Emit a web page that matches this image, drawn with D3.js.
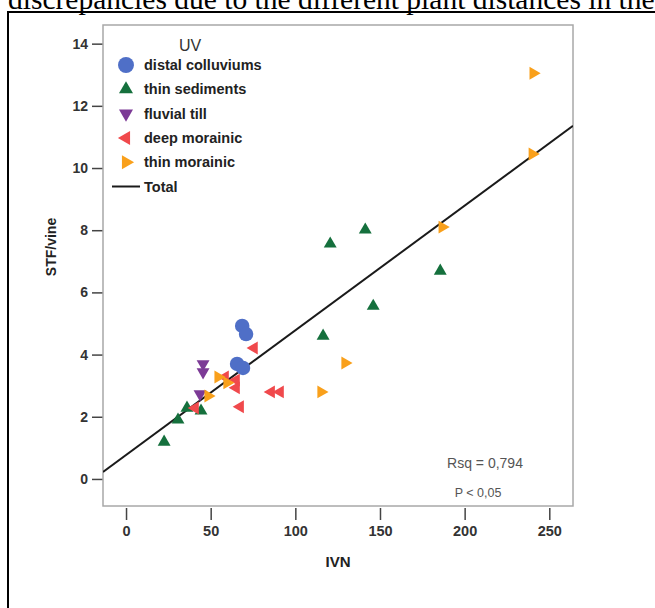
<!DOCTYPE html>
<html>
<head>
<meta charset="utf-8">
<script src="https://cdn.jsdelivr.net/npm/d3@7"></script>
<style>
  body { margin: 0; background: #fff; }
  svg { display: block; }
</style>
</head>
<body>
<script>
const width = 655;
const height = 608;

// series: [IVN, STF/vine]
const distalColluviums = [[68.6, 4.92], [70.9, 4.66], [65.6, 3.70], [69.1, 3.57]];
const thinSediments = [[22.5, 1.19], [30.7, 1.90], [36.0, 2.28], [44.3, 2.19], [120.6, 7.56],
  [141.3, 8.01], [146.0, 5.56], [116.4, 4.60], [185.6, 6.69]];
const fluvialTill = [[45.5, 3.70], [45.5, 3.44], [43.7, 2.73]];
const deepMorainic = [[40.8, 2.28], [75.6, 4.21], [58.5, 3.28], [65.0, 3.18], [65.0, 2.93],
  [67.4, 2.32], [85.7, 2.80], [91.0, 2.80]];
const thinMorainic = [[240.5, 13.05], [240.0, 10.45], [186.8, 8.10], [129.4, 3.73], [115.2, 2.80],
  [54.4, 3.28], [59.7, 3.09], [48.5, 2.67]];

const seriesNames = ["distal colluviums", "thin sediments", "fluvial till", "deep morainic", "thin morainic"];
const seriesData = [distalColluviums, thinSediments, fluvialTill, deepMorainic, thinMorainic];
const seriesColors = ["#4f6fc7", "#15703d", "#7c3a96", "#f0494c", "#f9a01b"];
// circle, up, down, left, right
const seriesShapes = ["circle", "up", "down", "left", "right"];

// fitted line (Total)
const fitIntercept = 0.77;
const fitSlope = 0.0401;

const xTicks = [0, 50, 100, 150, 200, 250];
const yTicks = [0, 2, 4, 6, 8, 10, 12, 14];

const box = { left: 103, right: 573, top: 25, bottom: 506 };
const font = "'Liberation Sans', Arial, sans-serif";

const svg = d3.select("body").append("svg")
  .attr("width", width)
  .attr("height", height);

// text line of the page above, cut by the top edge
svg.append("text")
  .attr("x", 8)
  .attr("y", 9)
  .attr("font-family", "'Liberation Serif', 'Times New Roman', serif")
  .attr("font-size", 29.5)
  .attr("fill", "#000")
  .text("discrepancies due to the different plant distances in the");

// outer frame
svg.append("path")
  .attr("d", `M8,${height + 5} L8,12 L${width + 5},12`)
  .attr("fill", "none")
  .attr("stroke", "#000")
  .attr("stroke-width", 2);

const x = d3.scaleLinear()
  .domain([-13.6, 264])
  .range([box.left, box.right]);

const y = d3.scaleLinear()
  .domain([-0.87, 14.6])
  .range([box.bottom, box.top]);

// y axis
const yAxis = svg.append("g")
  .attr("transform", `translate(${box.left},0)`)
  .call(d3.axisLeft(y).tickValues(yTicks).tickSize(11).tickPadding(4));
yAxis.select(".domain").remove();
yAxis.selectAll("line").attr("stroke", "#444").attr("stroke-width", 1.5);
yAxis.selectAll("text")
  .attr("font-family", font)
  .attr("font-size", 14)
  .attr("font-weight", "bold")
  .attr("fill", "#333");

// x axis, ticks sit a little below the box
const xAxis = svg.append("g")
  .attr("transform", `translate(0,${box.bottom + 2})`)
  .call(d3.axisBottom(x).tickValues(xTicks).tickSize(12).tickPadding(6));
xAxis.select(".domain").remove();
xAxis.selectAll("line").attr("stroke", "#444").attr("stroke-width", 1.5);
xAxis.selectAll("text")
  .attr("font-family", font)
  .attr("font-size", 14.5)
  .attr("font-weight", "bold")
  .attr("fill", "#333");

// plot frame
svg.append("rect")
  .attr("x", box.left)
  .attr("y", box.top)
  .attr("width", box.right - box.left)
  .attr("height", box.bottom - box.top)
  .attr("fill", "none")
  .attr("stroke", "#a8a8a8")
  .attr("stroke-width", 1.5);

// axis titles
svg.append("text")
  .attr("transform", "translate(56,247) rotate(-90)")
  .attr("text-anchor", "middle")
  .attr("font-family", font)
  .attr("font-size", 14)
  .attr("font-weight", "bold")
  .attr("fill", "#222")
  .text("STF/vine");

svg.append("text")
  .attr("x", (box.left + box.right) / 2)
  .attr("y", 567)
  .attr("text-anchor", "middle")
  .attr("font-family", font)
  .attr("font-size", 15)
  .attr("font-weight", "bold")
  .attr("fill", "#222")
  .text("IVN");

// clip for the fit line
svg.append("clipPath").attr("id", "plotClip")
  .append("rect")
  .attr("x", box.left).attr("y", box.top)
  .attr("width", box.right - box.left).attr("height", box.bottom - box.top);

const xDom = x.domain();
svg.append("line")
  .attr("clip-path", "url(#plotClip)")
  .attr("x1", x(xDom[0]))
  .attr("y1", y(fitIntercept + fitSlope * xDom[0]))
  .attr("x2", x(xDom[1]))
  .attr("y2", y(fitIntercept + fitSlope * xDom[1]))
  .attr("stroke", "#1a1a1a")
  .attr("stroke-width", 2);

function markerPath(shape, size) {
  if (shape === "circle") return d3.symbol(d3.symbolCircle, size)();
  return d3.symbol(d3.symbolTriangle, size)();
}
const rotation = { circle: 0, up: 0, down: 180, left: -90, right: 90 };

// points
seriesData.forEach((pts, i) => {
  const shape = seriesShapes[i];
  const size = shape === "circle" ? 165 : 72;
  svg.append("g")
    .selectAll("path")
    .data(pts)
    .join("path")
      .attr("d", markerPath(shape, size))
      .attr("transform", (d) => `translate(${x(d[0])},${y(d[1])}) rotate(${rotation[shape]})`)
      .attr("fill", seriesColors[i]);
});

// legend
const legend = svg.append("g");
legend.append("text")
  .attr("x", 190)
  .attr("y", 51)
  .attr("text-anchor", "middle")
  .attr("font-family", font)
  .attr("font-size", 16)
  .attr("fill", "#333")
  .text("UV");

const legendRow = (i) => 65 + i * 24.3;

seriesNames.forEach((name, i) => {
  const shape = seriesShapes[i];
  const size = shape === "circle" ? 200 : 85;
  legend.append("path")
    .attr("d", markerPath(shape, size))
    .attr("transform", `translate(126,${legendRow(i)}) rotate(${rotation[shape]})`)
    .attr("fill", seriesColors[i]);
  legend.append("text")
    .attr("x", 144)
    .attr("y", legendRow(i))
    .attr("dy", "0.35em")
    .attr("font-family", font)
    .attr("font-size", 14.5)
    .attr("font-weight", "bold")
    .attr("fill", "#222")
    .text(name);
});

legend.append("line")
  .attr("x1", 112).attr("x2", 140)
  .attr("y1", legendRow(5)).attr("y2", legendRow(5))
  .attr("stroke", "#1a1a1a")
  .attr("stroke-width", 2);
legend.append("text")
  .attr("x", 144)
  .attr("y", legendRow(5))
  .attr("dy", "0.35em")
  .attr("font-family", font)
  .attr("font-size", 14.5)
  .attr("font-weight", "bold")
  .attr("fill", "#222")
  .text("Total");

// fit statistics
svg.append("text")
  .attr("x", 485)
  .attr("y", 468)
  .attr("text-anchor", "middle")
  .attr("font-family", font)
  .attr("font-size", 14)
  .attr("fill", "#555")
  .text("Rsq = 0,794");

svg.append("text")
  .attr("x", 478)
  .attr("y", 497)
  .attr("text-anchor", "middle")
  .attr("font-family", font)
  .attr("font-size", 12.5)
  .attr("fill", "#555")
  .text("P < 0,05");
</script>
</body>
</html>
